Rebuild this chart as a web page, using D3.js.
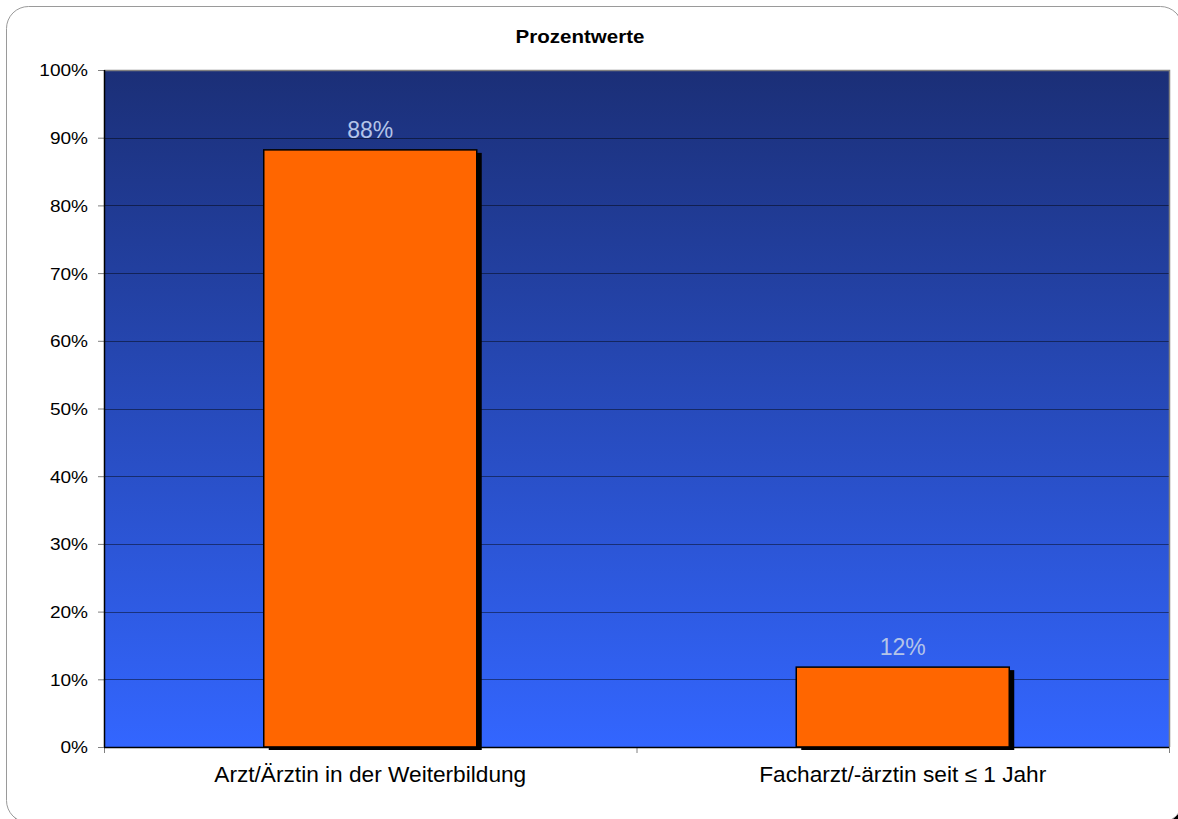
<!DOCTYPE html>
<html>
<head>
<meta charset="utf-8">
<script src="https://cdn.jsdelivr.net/npm/d3@7"></script>
<style>
  body { margin: 0; background: #fff; overflow: hidden; }
  svg { display: block; font-family: "Liberation Sans", Arial, sans-serif; }
</style>
</head>
<body>
<div id="chart"></div>
<script>
// data
var categories = ["Arzt/Ärztin in der Weiterbildung", "Facharzt/-ärztin seit ≤ 1 Jahr"];
var values = [0.882, 0.118];
var valueLabels = ["88%", "12%"];
var yTicks = [0, 0.1, 0.2, 0.3, 0.4, 0.5, 0.6, 0.7, 0.8, 0.9, 1.0];
var title = "Prozentwerte";

var width = 1178,
  height = 819;

var m = { top: 70, right: 9, bottom: 72, left: 104 };
var pw = width - m.left - m.right,
  ph = height - m.top - m.bottom;

var svg = d3
  .select("#chart")
  .append("svg")
  .attr("width", width)
  .attr("height", height);

var defs = svg.append("defs");
var grad = defs
  .append("linearGradient")
  .attr("id", "bg")
  .attr("x1", 0)
  .attr("y1", 0)
  .attr("x2", 0)
  .attr("y2", 1);
grad.append("stop").attr("offset", "0%").attr("stop-color", "#1b2f77");
grad.append("stop").attr("offset", "100%").attr("stop-color", "#3366ff");

// stretch text horizontally a little (reference glyphs are wider)
function stretch(sel, k) {
  sel.each(function() {
    var len = this.getComputedTextLength();
    d3.select(this)
      .attr("textLength", len * k)
      .attr("lengthAdjust", "spacingAndGlyphs");
  });
}

// outer frame (right/bottom run off the picture), black shadow
svg
  .append("rect")
  .attr("x", 10)
  .attr("y", 10)
  .attr("width", 1176)
  .attr("height", 816)
  .attr("rx", 22)
  .attr("fill", "#000");
svg
  .append("rect")
  .attr("x", 6.5)
  .attr("y", 6.5)
  .attr("width", 1176)
  .attr("height", 816)
  .attr("rx", 22)
  .attr("fill", "#fff")
  .attr("stroke", "#9a9a9a")
  .attr("stroke-width", 1);

svg
  .append("text")
  .attr("x", width / 2 - 9)
  .attr("y", 43)
  .attr("text-anchor", "middle")
  .style("font-weight", "bold")
  .style("font-size", "19px")
  .text(title)
  .call(stretch, 1.08);

var g = svg.append("g").attr("transform", "translate(" + m.left + "," + m.top + ")");

var x = d3
  .scaleBand()
  .domain(categories)
  .range([0, pw])
  .paddingInner(0.6)
  .paddingOuter(0.3);

var y = d3.scaleLinear().domain([0, 1]).range([ph, 0]);

// plot background
g.append("rect")
  .attr("width", pw)
  .attr("height", ph)
  .attr("fill", "url(#bg)");

// gridlines
g.selectAll(".grid")
  .data(yTicks.filter(function(d) { return d > 0 && d < 1; }))
  .enter()
  .append("line")
  .attr("x1", 0)
  .attr("x2", pw)
  .attr("y1", function(d) { return Math.round(y(d)) + 0.5; })
  .attr("y2", function(d) { return Math.round(y(d)) + 0.5; })
  .attr("stroke", "#000")
  .attr("stroke-opacity", 0.45)
  .attr("stroke-width", 1);

// plot border top/right
g.append("path")
  .attr("d", "M0,0.5H" + (pw + 0.5) + "V" + ph)
  .attr("fill", "none")
  .attr("stroke", "#808080")
  .attr("stroke-width", 1.5);

// y axis
var yAxis = g
  .append("g")
  .call(
    d3
      .axisLeft(y)
      .tickValues(yTicks)
      .tickSize(6)
      .tickFormat(d3.format(".0%"))
  );
yAxis.select(".domain").remove();
yAxis.selectAll(".tick line").attr("stroke", "#808080");
yAxis
  .selectAll(".tick text")
  .attr("x", -16)
  .attr("dy", "0.35em")
  .style("font-size", "17px")
  .style("font-family", "Liberation Sans, Arial, sans-serif")
  .attr("fill", "#000")
  .call(stretch, 1.12);

// x axis category tick marks at band boundaries
var bounds = [0, pw / 2, pw];
g.selectAll(".xtick")
  .data(bounds)
  .enter()
  .append("line")
  .attr("x1", function(d) { return d + 0.5; })
  .attr("x2", function(d) { return d + 0.5; })
  .attr("y1", ph)
  .attr("y2", ph + 6)
  .attr("stroke", "#808080");

// bars: shadow then bar
var bars = g
  .selectAll(".bar")
  .data(categories)
  .enter()
  .append("g");

bars
  .append("rect")
  .attr("x", function(d) { return x(d) + 5; })
  .attr("y", function(d, i) { return y(values[i]) + 3; })
  .attr("width", x.bandwidth())
  .attr("height", function(d, i) { return ph - y(values[i]); })
  .attr("fill", "#000");

bars
  .append("rect")
  .attr("x", function(d) { return x(d); })
  .attr("y", function(d, i) { return y(values[i]); })
  .attr("width", x.bandwidth())
  .attr("height", function(d, i) { return ph - y(values[i]); })
  .attr("fill", "#ff6600")
  .attr("stroke", "#000")
  .attr("stroke-width", 1.5);

bars
  .append("text")
  .attr("x", function(d) { return x(d) + x.bandwidth() / 2; })
  .attr("y", function(d, i) { return y(values[i]) - 12; })
  .attr("text-anchor", "middle")
  .style("font-size", "23px")
  .attr("fill", "#b4c4e8")
  .text(function(d, i) { return valueLabels[i]; });

// x axis line
g.append("line")
  .attr("x1", 0)
  .attr("x2", pw)
  .attr("y1", ph + 0.5)
  .attr("y2", ph + 0.5)
  .attr("stroke", "#000")
  .attr("stroke-width", 1.5);

// y axis line
g.append("line")
  .attr("x1", 0.5)
  .attr("x2", 0.5)
  .attr("y1", 0)
  .attr("y2", ph)
  .attr("stroke", "#000")
  .attr("stroke-width", 1.5);

// category labels
g.selectAll(".cat")
  .data(categories)
  .enter()
  .append("text")
  .attr("x", function(d) { return x(d) + x.bandwidth() / 2; })
  .attr("y", ph + 35)
  .attr("text-anchor", "middle")
  .style("font-size", "22px")
  .attr("fill", "#000")
  .text(function(d) { return d; })
  .call(stretch, 1.03);
</script>
</body>
</html>
